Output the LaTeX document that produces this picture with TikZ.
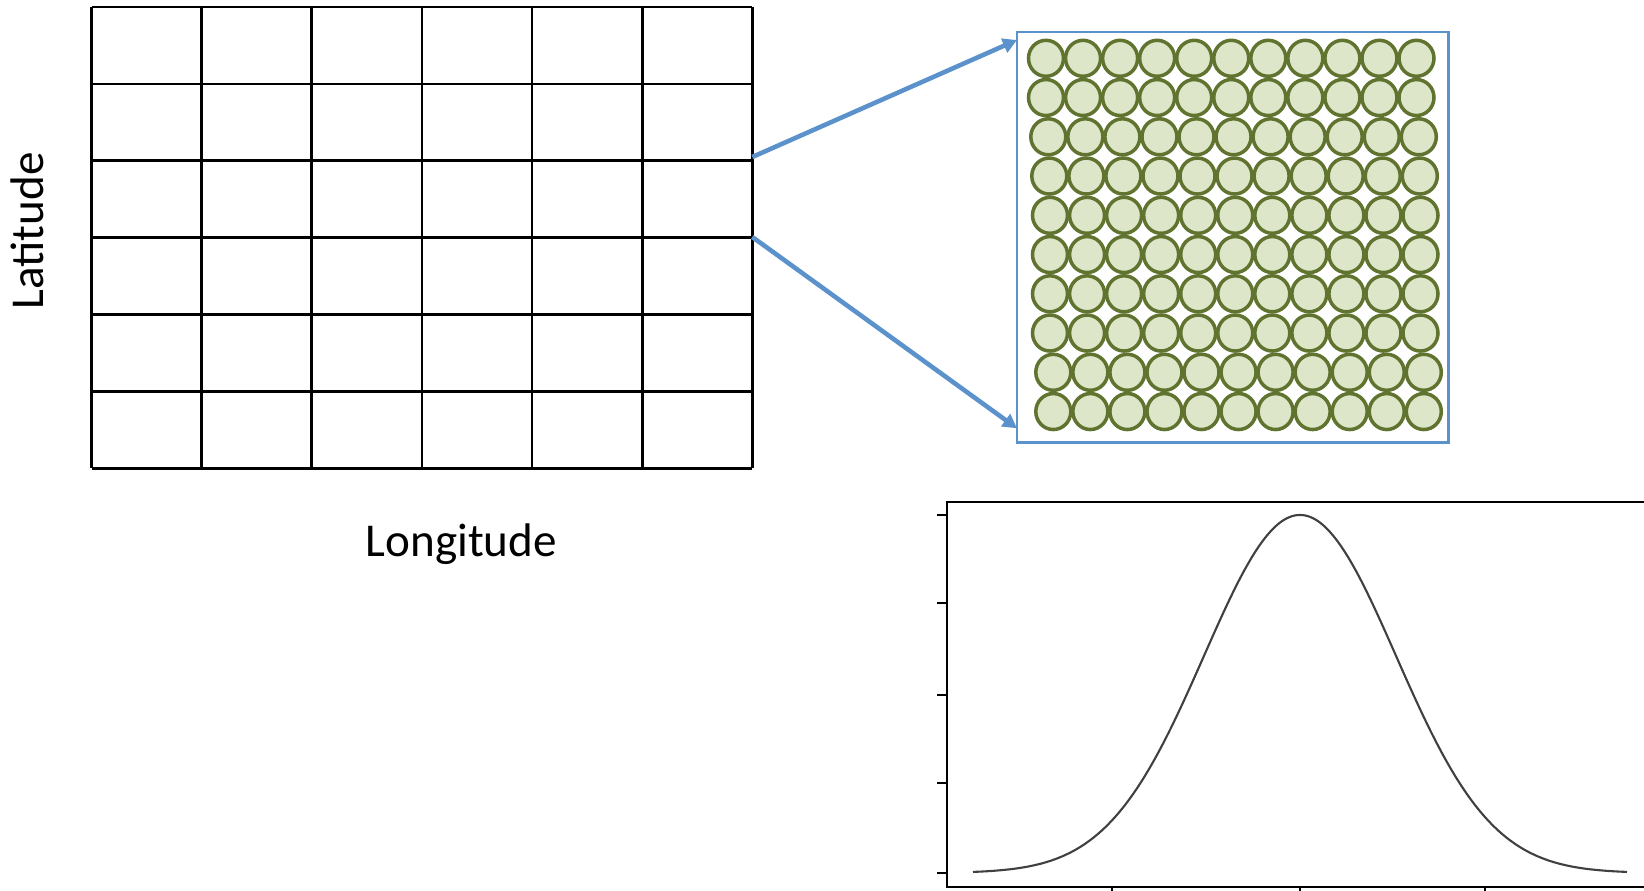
\documentclass[tikz,border=0pt]{standalone}
\usepackage{fontspec}
\setmainfont{Carlito}
\usetikzlibrary{arrows.meta}
\definecolor{linkblue}{RGB}{91,146,204}
\definecolor{cellgreen}{RGB}{221,230,201}
\definecolor{cellolive}{RGB}{96,116,48}

\begin{document}
\begin{tikzpicture}[x=0.01cm, y=-0.01cm,
    gridline/.style={line width=0.75pt, black},
    linkarrow/.style={line width=1.3pt, linkblue, -{Triangle[length=4pt,width=4.2pt]}},
    patchframe/.style={line width=0.85pt, linkblue},
    cell/.style={draw=cellolive, fill=cellgreen, line width=1pt},
    axisline/.style={line width=0.7pt, black},
    pdfcurve/.style={line width=0.6pt, black!75},
    axislabel/.style={font=\fontsize{13.4}{16}\selectfont, inner sep=0pt}]
        \useasboundingbox (0,0) rectangle (1644,891);
        \coordinate (cellT) at (752.3,157);
        \coordinate (cellB) at (752.3,237);
        \coordinate (patchT) at (1017,40);
        \coordinate (patchB) at (1017,428.3);
        \foreach \i in {0,...,6}
            \draw[gridline] ({91.5+110.15*\i},7) -- ({91.5+110.15*\i},468.3);
        \foreach \j in {0,...,6}
            \draw[gridline] (91.5,{7+76.88*\j}) -- (752.4,{7+76.88*\j});
        \node[axislabel, rotate=90, anchor=base] (lat) at (43.3,230.8) {Latitude};
        \node[axislabel, anchor=base] (lon) at (461.3,556.7) {Longitude};
        \draw[patchframe] (1017,32) rectangle (1448.5,442.3);
        \foreach \r/\xo in {0/1046,1/1046,2/1048.3,3/1049.3,4/1050,5/1050,6/1050,7/1050,8/1053.3,9/1053.3}
            \foreach \c in {0,...,10}
                \draw[cell] ({\xo+37.05*\c},{58.3+39.25*\r}) ellipse [x radius=17.5, y radius=18];
        \draw[linkarrow] (cellT) -- (patchT);
        \draw[linkarrow] (cellB) -- (patchB);
        \draw[axisline] (1644,502) -- (947,502) -- (947,887) -- (1644,887);
        \foreach \ty in {515,603,695,783,873}
            \draw[axisline] (937,\ty) -- (947,\ty);
        \foreach \tx in {1112,1300,1485}
            \draw[axisline] (\tx,887) -- (\tx,891);
        \draw[pdfcurve] plot[domain=973:1627, samples=161, smooth]
            (\x, {873-358*exp(-((\x-1300)/96)^2/2)});
    \end{tikzpicture}
\end{document}
